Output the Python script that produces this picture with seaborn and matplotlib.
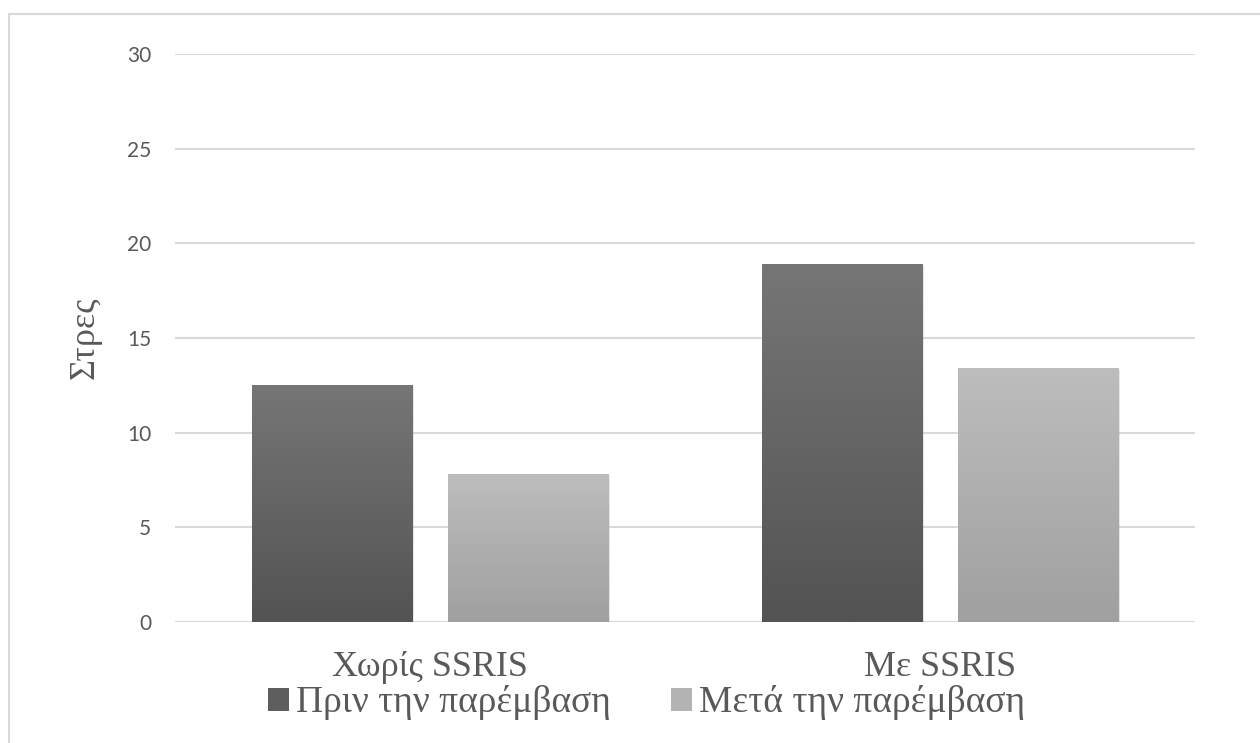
import numpy as np
import pandas as pd
import matplotlib
matplotlib.use("Agg")
import matplotlib.pyplot as plt
import seaborn as sns
from matplotlib.colors import LinearSegmentedColormap
from matplotlib.patches import Rectangle, Patch

# data
groups = ["Χωρίς SSRIS", "Με SSRIS"]
phases = ["Πριν την παρέμβαση", "Μετά την παρέμβαση"]
before = [12.5, 18.9]
after = [7.8, 13.4]
yticks = [0, 5, 10, 15, 20, 25, 30]

df = pd.DataFrame({
    "group": groups * 2,
    "phase": [phases[0]] * 2 + [phases[1]] * 2,
    "value": before + after,
})

sns.set_style("white")
serif = ["Liberation Serif", "DejaVu Serif"]
sans = ["Lato", "DejaVu Sans"]

fig = plt.figure(figsize=(12.6, 7.43), dpi=100)
ax = fig.add_axes([175 / 1260, 1 - 622 / 743, 1020 / 1260, 568 / 743])

pal = {phases[0]: "#636363", phases[1]: "#b0b0b0"}
sns.barplot(data=df, x="group", y="value", hue="phase", hue_order=phases,
            order=groups, palette=pal, width=0.77, gap=0.185,
            ax=ax, legend=False, zorder=2)

# vertical gradients on top of the bars
grads = {
    phases[0]: LinearSegmentedColormap.from_list("d", ["#535353", "#767676"]),
    phases[1]: LinearSegmentedColormap.from_list("l", ["#a0a0a0", "#bdbdbd"]),
}
grad = np.linspace(0, 1, 256).reshape(-1, 1)
for i, p in enumerate(list(ax.patches)):
    ph = phases[i // len(groups)]
    x0, w, h = p.get_x(), p.get_width(), p.get_height()
    # soft shadow
    sh = Rectangle((x0 + 0.004, 0), w, h - 0.08, facecolor="#000000", alpha=0.12,
                   edgecolor="none", zorder=1.5)
    ax.add_patch(sh)
    ax.imshow(grad, cmap=grads[ph], origin="lower", aspect="auto",
              extent=[x0, x0 + w, 0, h], zorder=3)

ax.set_xlim(-0.5, 1.5)
ax.set_ylim(0, 30)
ax.set_yticks(yticks)
ax.yaxis.grid(True, color="#d9d9d9", linewidth=1.5, zorder=0)
ax.set_axisbelow(True)
for s in ax.spines.values():
    s.set_visible(False)
ax.axhline(0, color="#d9d9d9", linewidth=1.5, zorder=1)
ax.tick_params(axis="both", length=0)
ax.tick_params(axis="y", pad=17, labelsize=15, labelcolor="#595959")
ax.tick_params(axis="x", pad=21, labelsize=26, labelcolor="#595959")
for t in ax.get_yticklabels():
    t.set_fontfamily(sans)
for t in ax.get_xticklabels():
    t.set_fontfamily(serif)
ax.set_xlabel("")
ax.set_ylabel("Στρες", fontsize=26, color="#595959", family=serif)
ax.yaxis.set_label_coords((102 - 175) / 1020, 0.5)

handles = [Patch(facecolor="#5e5e5e", edgecolor="none"),
           Patch(facecolor="#b3b3b3", edgecolor="none")]
leg = fig.legend(handles, phases, loc="center", bbox_to_anchor=(647 / 1260, 1 - 703 / 743),
                 ncol=2, frameon=False, prop={"family": serif, "size": 27},
                 handlelength=0.55, handleheight=0.55, handletextpad=0.2,
                 columnspacing=1.6, labelcolor="#595959", borderpad=0)

# outer frame
fig.patches.append(Rectangle((9 / 1260, -0.1), 1.2, 1.1 - 14 / 743, transform=fig.transFigure,
                             fill=False, edgecolor="#d9d9d9", linewidth=1.5))

fig.savefig("out.png", dpi=100)
